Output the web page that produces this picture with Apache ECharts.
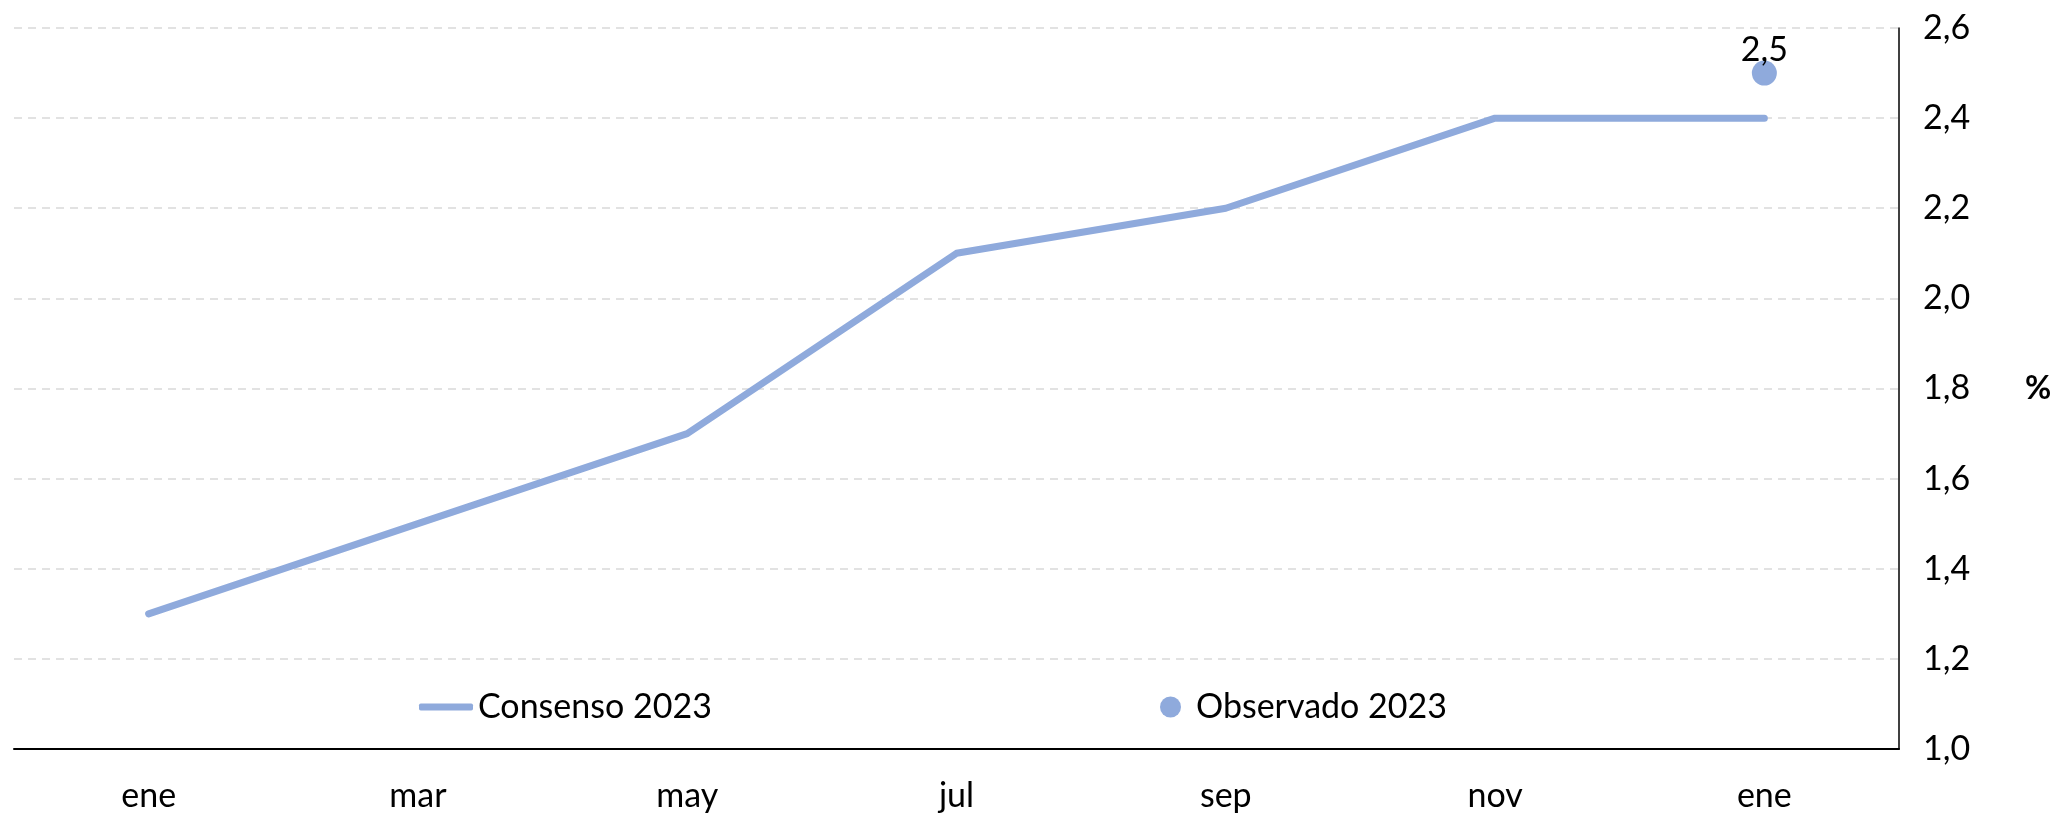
<!DOCTYPE html>
<html>
<head>
<meta charset="utf-8">
<title>Consenso 2023</title>
<script src="https://cdn.jsdelivr.net/npm/echarts@6.0.0/dist/echarts.min.js"></script>
<style>
  html, body { margin: 0; padding: 0; background: #fff; }
  #chart { width: 2058px; height: 816px; }
</style>
</head>
<body>
<div id="chart"></div>
<script>
  // datos (bimestral)
  var months = ['ene', 'mar', 'may', 'jul', 'sep', 'nov', 'ene'];
  var consenso = [1.3, 1.5, 1.7, 2.1, 2.2, 2.4, 2.4];
  var observado = ['-', '-', '-', '-', '-', '-', 2.5];
  var yTicks = [1.0, 2.6, 0.2]; // min, max, interval

  var blue = '#8faadc';
  var font = 'Lato';
  var fs = 34;

  function fmt(v) {
    return v.toFixed(1).replace('.', ',');
  }

  var chart = echarts.init(document.getElementById('chart'));
  chart.setOption({
    backgroundColor: '#fff',
    animation: false,
    textStyle: { fontFamily: font, color: '#000' },
    grid: { left: 14, right: 159, top: 28, bottom: 67, outerBoundsMode: 'none', containLabel: false },
    legend: [{
      data: [{ name: 'Consenso 2023', icon: 'roundRect' }],
      left: 414,
      top: 685,
      itemWidth: 54,
      itemHeight: 7,
      textStyle: { fontSize: fs, fontFamily: font, color: '#000' }
    }, {
      data: [{ name: 'Observado 2023', icon: 'circle' }],
      left: 1155,
      top: 685,
      itemWidth: 21,
      itemHeight: 21,
      textStyle: { fontSize: fs, fontFamily: font, color: '#000', padding: [0, 0, 0, 10] }
    }],
    xAxis: {
      type: 'category',
      data: months,
      boundaryGap: true,
      axisTick: { show: false },
      axisLine: { lineStyle: { color: '#000', width: 2 } },
      axisLabel: { fontSize: fs, color: '#000', margin: 30, fontFamily: font }
    },
    yAxis: {
      type: 'value',
      position: 'right',
      min: yTicks[0],
      max: yTicks[1],
      interval: yTicks[2],
      name: '%',
      nameLocation: 'middle',
      nameRotate: 0,
      nameGap: 126,
      nameTextStyle: { fontSize: 32, fontWeight: 'bold', color: '#000', fontFamily: font },
      axisLine: { show: true, lineStyle: { color: '#000', width: 1.5 } },
      axisTick: { show: false },
      axisLabel: { fontSize: fs, color: '#000', margin: 24, fontFamily: font, formatter: fmt },
      splitLine: { lineStyle: { color: '#d9d9d9', width: 1.5, type: [8, 6] } }
    },
    series: [{
      name: 'Consenso 2023',
      type: 'line',
      data: consenso,
      symbol: 'none',
      itemStyle: { color: blue },
      lineStyle: { color: blue, width: 7, cap: 'round', join: 'round' }
    }, {
      name: 'Observado 2023',
      type: 'scatter',
      data: observado,
      symbolSize: 25,
      itemStyle: { color: blue, opacity: 1 },
      label: {
        show: true,
        position: 'top',
        distance: -6,
        fontSize: fs,
        color: '#000',
        fontFamily: font,
        formatter: function (p) { return fmt(p.value); }
      }
    }]
  });
</script>
</body>
</html>
